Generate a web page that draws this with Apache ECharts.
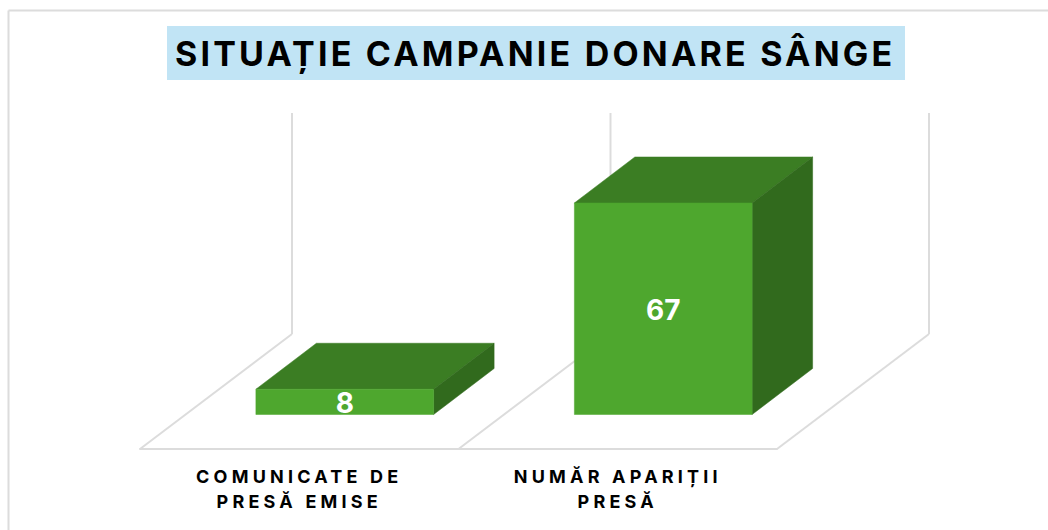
<!DOCTYPE html>
<html>
<head>
<meta charset="utf-8">
<title>Situație campanie donare sânge</title>
<script src="https://cdn.jsdelivr.net/npm/echarts@6/dist/echarts.min.js"></script>
<style>
  html, body { margin: 0; padding: 0; background: #fff; }
  #chart { width: 1048px; height: 530px; }
  /* echarts has no letter spacing option, so it is set on the svg text */
  #chart text { letter-spacing: 4.2px; }
  #chart text[style*="34px"] { letter-spacing: 3.2px; }
  #chart text[fill="#fff"] { letter-spacing: 0; }
</style>
</head>
<body>
<div id="chart"></div>
<script>
var titleText = 'SITUAȚIE CAMPANIE DONARE SÂNGE';
var categories = ['COMUNICATE DE\nPRESĂ EMISE', 'NUMĂR APARIȚII\nPRESĂ'];
var values = [8, 67];
var axisMax = 70;

// oblique projection of the fake 3d box, in pixels
var floorDepth = [152, -115];
var barShift = [45.5, -34.5];
var barDepth = [60.5, -46];
var barRatio = 0.558;

var gridColor = '#dcdcdc';
var frontColor = '#4ea72e';
var topColor = '#3b7d23';
var sideColor = '#316a1d';

function poly(points, color) {
  return { type: 'polygon', shape: { points: points }, style: { fill: color, stroke: color, lineWidth: 0.5 } };
}

function line(x1, y1, x2, y2) {
  return {
    type: 'line',
    shape: { x1: x1, y1: y1, x2: x2, y2: y2 },
    style: { stroke: gridColor, lineWidth: 2, fill: null }
  };
}

// floor diagonal and back wall line for one category edge
function floorEdge(x, y0, yTop) {
  var bx = x + floorDepth[0];
  var by = y0 + floorDepth[1];
  return [line(x, y0, bx, by), line(bx, by, bx, yTop + floorDepth[1])];
}

function renderFloor(params, api) {
  var idx = api.value(0);
  var c = api.coord([idx, 0]);
  var band = api.size([1, 0])[0];
  var yTop = api.coord([idx, axisMax])[1];
  var kids = floorEdge(c[0] - band / 2, c[1], yTop);
  if (idx === categories.length - 1) {
    kids = kids.concat(floorEdge(c[0] + band / 2, c[1], yTop));
  }
  return { type: 'group', children: kids };
}

function renderBar(params, api) {
  var idx = api.value(0);
  var val = api.value(1);
  var base = api.coord([idx, 0]);
  var head = api.coord([idx, val]);
  var w = api.size([1, 0])[0] * barRatio;
  var x0 = base[0] + barShift[0] - w / 2;
  var x1 = x0 + w;
  var yb = base[1] + barShift[1];
  var yt = head[1] + barShift[1];
  var dx = barDepth[0];
  var dy = barDepth[1];
  return {
    type: 'group',
    children: [
      poly([[x0, yt], [x1, yt], [x1 + dx, yt + dy], [x0 + dx, yt + dy]], topColor),
      poly([[x1, yt], [x1 + dx, yt + dy], [x1 + dx, yb + dy], [x1, yb]], sideColor),
      poly([[x0, yt], [x1, yt], [x1, yb], [x0, yb]], frontColor),
      {
        type: 'text',
        x: (x0 + x1) / 2,
        y: (yt + yb) / 2 + 1.5,
        style: {
          text: String(val),
          fill: '#fff',
          align: 'center',
          verticalAlign: 'middle',
          font: '700 28px Inter'
        }
      }
    ]
  };
}

var chart = echarts.init(document.getElementById('chart'), null, { renderer: 'svg' });
chart.setOption({
  animation: false,
  backgroundColor: '#fff',
  title: {
    text: titleText,
    left: 175,
    top: 36,
    padding: 0,
    textStyle: { fontFamily: 'Inter', fontWeight: 700, fontSize: 34, color: '#000' }
  },
  graphic: [
    { type: 'rect', z: 0, shape: { x: 167, y: 26, width: 738, height: 54 }, style: { fill: '#c1e4f5' } },
    { type: 'line', z: 0, shape: { x1: 8.5, y1: 10.5, x2: 1048, y2: 10.5 }, style: { stroke: gridColor, lineWidth: 2 } },
    { type: 'line', z: 0, shape: { x1: 8.5, y1: 10.5, x2: 8.5, y2: 530 }, style: { stroke: gridColor, lineWidth: 2 } }
  ],
  grid: { left: 140, right: 271, top: 228, bottom: 81 },
  xAxis: {
    type: 'category',
    data: categories,
    axisTick: { show: false },
    axisLine: { show: true, lineStyle: { color: gridColor, width: 2 } },
    axisLabel: {
      interval: 0,
      margin: 15,
      lineHeight: 25,
      color: '#000',
      fontFamily: 'Inter',
      fontWeight: 700,
      fontSize: 18
    }
  },
  yAxis: {
    type: 'value',
    min: 0,
    max: axisMax,
    show: false,
    splitLine: { show: false }
  },
  series: [
    {
      type: 'custom',
      silent: true,
      clip: false,
      renderItem: renderFloor,
      data: categories.map(function (c, i) { return [i, 0]; }),
      encode: { x: 0, y: 1 }
    },
    {
      type: 'custom',
      clip: false,
      renderItem: renderBar,
      data: values.map(function (v, i) { return [i, v]; }),
      encode: { x: 0, y: 1 }
    }
  ]
});
</script>
</body>
</html>
